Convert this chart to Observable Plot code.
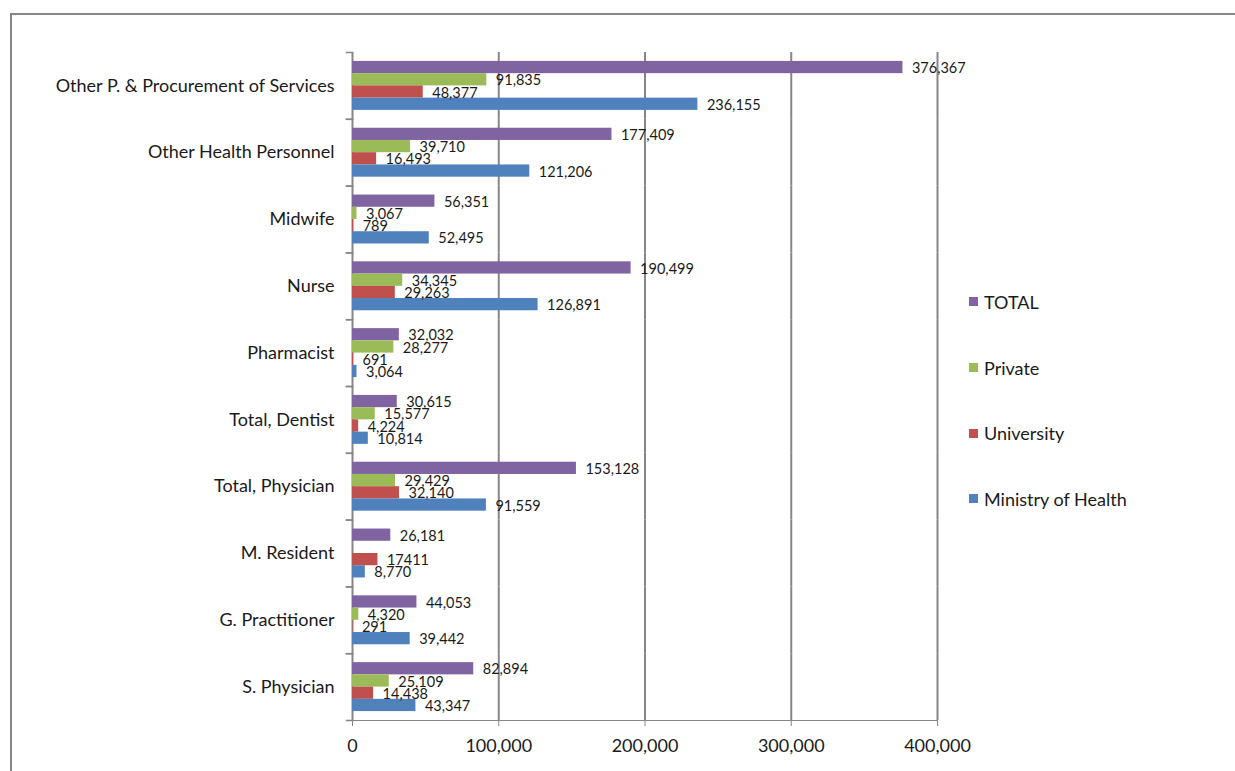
<!DOCTYPE html>
<html>
<head>
<meta charset="utf-8">
<script src="https://cdn.jsdelivr.net/npm/d3@7"></script>
<script src="https://cdn.jsdelivr.net/npm/@observablehq/plot@0.6"></script>
<style>
  body { margin: 0; background: #fff; overflow: hidden; }
  #wrap { position: relative; width: 1235px; height: 771px; font-family: Lato, "Open Sans", sans-serif; }
  #border { position: absolute; left: 10px; top: 13px; width: 1240px; height: 770px; border: 2px solid #868686; box-sizing: border-box; }
  #chart { position: absolute; left: 0; top: 0; }
  #chart text { fill: #1a1a1a; }
  #legend { position: absolute; left: 969px; top: 269px; }
  .item { height: 65.7px; display: flex; align-items: center; font-size: 18px; color: #1a1a1a; }
  .sw { width: 9px; height: 9px; margin-right: 6px; }
</style>
</head>
<body>
<div id="wrap">
  <div id="border"></div>
  <div id="chart"></div>
  <div id="legend"></div>
</div>
<script>
// Staff counts by category and sector
const categories = [
  "Other P. & Procurement of Services",
  "Other Health Personnel",
  "Midwife",
  "Nurse",
  "Pharmacist",
  "Total, Dentist",
  "Total, Physician",
  "M. Resident",
  "G. Practitioner",
  "S. Physician"
];
const series = ["TOTAL", "Private", "University", "Ministry of Health"];
const colors = ["#8064A2", "#9BBB59", "#C0504D", "#4F81BD"];

const total         = [376367, 177409, 56351, 190499, 32032, 30615, 153128, 26181, 44053, 82894];
const privateSector = [91835, 39710, 3067, 34345, 28277, 15577, 29429, null, 4320, 25109];
const university    = [48377, 16493, 789, 29263, 691, 4224, 32140, 17411, 291, 14438];
const ministry      = [236155, 121206, 52495, 126891, 3064, 10814, 91559, 8770, 39442, 43347];

const xTicks = [0, 100000, 200000, 300000, 400000];
// labels shown without a thousands separator
const plainLabels = ["M. Resident|University"];

const columns = [total, privateSector, university, ministry];
const rows = categories.flatMap((c, i) =>
  series.map((s, j) => ({category: c, series: s, value: columns[j][i]}))
).filter(d => d.value != null);

const fmt = d3.format(",");
const W = 1235, H = 771, mL = 352, mR = 298, mT = 52, mB = 51;
const plotWidth = W - mL - mR;
const grey = "#868686";

const chart = Plot.plot({
  width: W,
  height: H,
  marginLeft: mL,
  marginRight: mR,
  marginTop: mT,
  marginBottom: mB,
  style: {fontFamily: "Lato, 'Open Sans', sans-serif", fontSize: "18px", color: grey, background: "transparent"},
  x: {domain: [0, 400000], ticks: xTicks, tickFormat: fmt, tickSize: 6, tickPadding: 13, line: true, label: null},
  y: {domain: series, axis: null, paddingInner: 0, paddingOuter: 0.73, round: false},
  fy: {domain: categories, padding: 0, round: false, label: null, axis: "left", tickSize: 0, tickPadding: 18},
  color: {domain: series, range: colors},
  facet: {data: rows, y: "category"},
  marks: [
    Plot.ruleX(xTicks, {stroke: grey, strokeWidth: 2}),
    Plot.frame({anchor: "top", insetLeft: -6, insetRight: plotWidth, stroke: grey, strokeWidth: 1.5}),
    Plot.frame({anchor: "bottom", insetLeft: -6, insetRight: plotWidth, stroke: grey, strokeWidth: 1.5}),
    Plot.barX(rows, {x: "value", y: "series", fill: "series"}),
    Plot.text(rows, {
      x: "value",
      y: "series",
      text: d => plainLabels.includes(d.category + "|" + d.series) ? String(d.value) : fmt(d.value),
      dx: 9,
      dy: 1,
      textAnchor: "start",
      fontSize: 14.5
    })
  ]
});
document.getElementById("chart").appendChild(chart);

// legend, listed top to bottom in series order
const legend = d3.select("#legend");
series.forEach((s, i) => {
  const item = legend.append("div").attr("class", "item");
  item.append("div").attr("class", "sw").style("background", colors[i]);
  item.append("span").text(s);
});
</script>
</body>
</html>
